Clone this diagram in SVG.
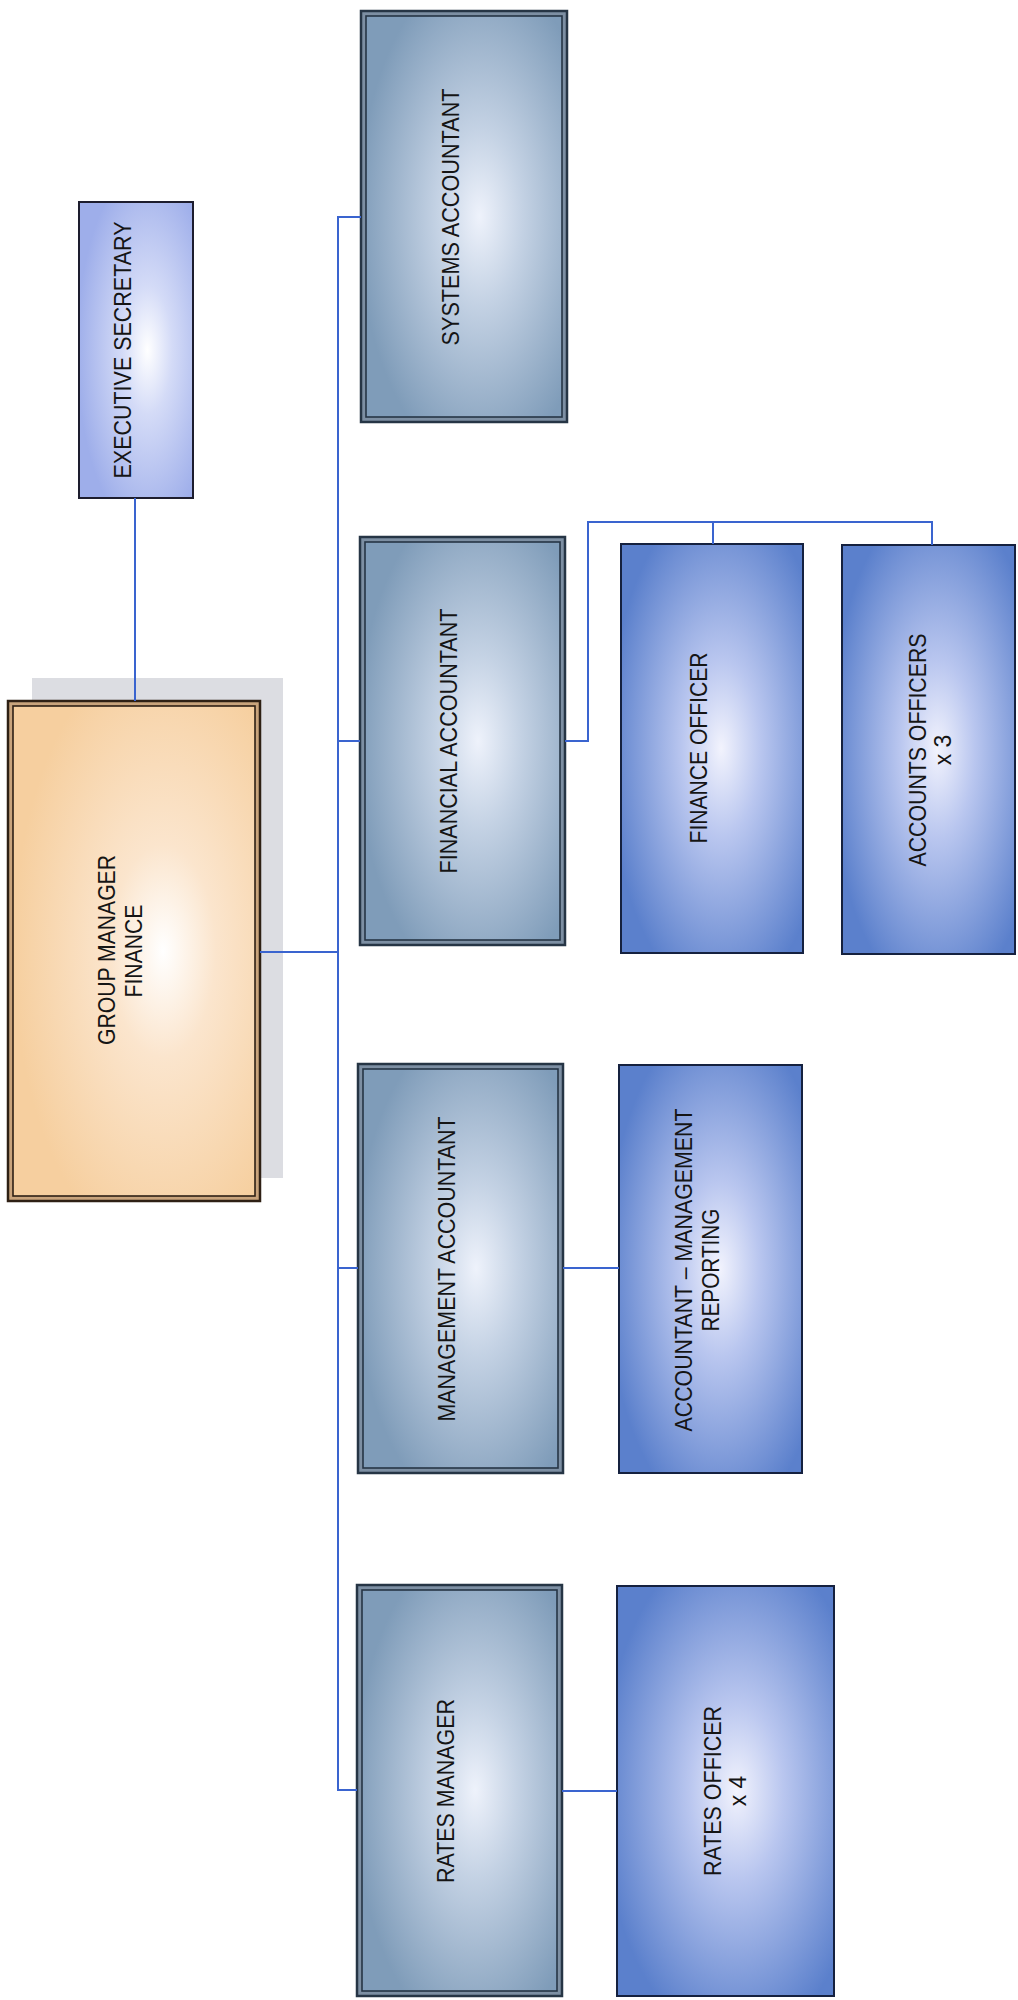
<svg xmlns="http://www.w3.org/2000/svg" width="1018" height="2000" viewBox="0 0 1018 2000">
<style>
text{font-family:"Liberation Sans",Arial,sans-serif;font-size:23px;fill:#151515;text-anchor:middle}
.conn{fill:none;stroke:#3a64cf;stroke-width:2}
.mgrOuter{fill:#7d8fa3;stroke:#263545;stroke-width:2.5}
.mgrInner{fill:url(#gMgr);stroke:#263545;stroke-width:1.6}
.off{fill:url(#gOff);stroke:#15213f;stroke-width:2}
</style>
<defs>
<radialGradient id="gMgr" cx="0.58" cy="0.5" r="0.62">
<stop offset="0" stop-color="#eef2fb"/>
<stop offset="0.35" stop-color="#c4d2e4"/>
<stop offset="1" stop-color="#7f9cb9"/>
</radialGradient>
<radialGradient id="gOff" cx="0.55" cy="0.5" r="0.62">
<stop offset="0" stop-color="#f2f3fd"/>
<stop offset="0.35" stop-color="#b9c6ef"/>
<stop offset="1" stop-color="#5b80cc"/>
</radialGradient>
<radialGradient id="gExec" cx="0.6" cy="0.5" r="0.62">
<stop offset="0" stop-color="#ffffff"/>
<stop offset="0.35" stop-color="#d4dbf7"/>
<stop offset="1" stop-color="#9eaeea"/>
</radialGradient>
<radialGradient id="gGM" cx="0.62" cy="0.5" r="0.62">
<stop offset="0" stop-color="#ffffff"/>
<stop offset="0.35" stop-color="#fbe5cd"/>
<stop offset="1" stop-color="#f6cf9f"/>
</radialGradient>
</defs>

<g id="executive-secretary">
<rect x="79" y="202" width="114" height="296" fill="url(#gExec)" stroke="#1d1d2e" stroke-width="2"/>
<text transform="translate(131,350) rotate(-90)" textLength="257" lengthAdjust="spacingAndGlyphs">EXECUTIVE SECRETARY</text>
</g>

<g id="group-manager-finance">
<rect x="32" y="678" width="251" height="500" fill="#dcdde2"/>
<rect x="8" y="701" width="252" height="500" fill="#c9a47c" stroke="#2e2014" stroke-width="2.5"/>
<rect x="13" y="706" width="242" height="490" fill="url(#gGM)" stroke="#2e2014" stroke-width="1.6"/>
<text transform="translate(115,950) rotate(-90)" textLength="190" lengthAdjust="spacingAndGlyphs">GROUP MANAGER</text>
<text transform="translate(142,951) rotate(-90)" textLength="93" lengthAdjust="spacingAndGlyphs">FINANCE</text>
</g>

<g id="systems-accountant">
<rect class="mgrOuter" x="361" y="11" width="206" height="411"/>
<rect class="mgrInner" x="366" y="16" width="196" height="401"/>
<text transform="translate(459,217) rotate(-90)" textLength="257" lengthAdjust="spacingAndGlyphs">SYSTEMS ACCOUNTANT</text>
</g>

<g id="financial-accountant">
<rect class="mgrOuter" x="360" y="537" width="205" height="408"/>
<rect class="mgrInner" x="365" y="542" width="195" height="398"/>
<text transform="translate(457,741) rotate(-90)" textLength="265" lengthAdjust="spacingAndGlyphs">FINANCIAL ACCOUNTANT</text>
</g>

<g id="management-accountant">
<rect class="mgrOuter" x="358" y="1064" width="205" height="409"/>
<rect class="mgrInner" x="363" y="1069" width="195" height="399"/>
<text transform="translate(455,1269) rotate(-90)" textLength="305" lengthAdjust="spacingAndGlyphs">MANAGEMENT ACCOUNTANT</text>
</g>

<g id="rates-manager">
<rect class="mgrOuter" x="357" y="1585" width="205" height="411"/>
<rect class="mgrInner" x="362" y="1590" width="195" height="401"/>
<text transform="translate(454,1791) rotate(-90)" textLength="184" lengthAdjust="spacingAndGlyphs">RATES MANAGER</text>
</g>

<g id="finance-officer">
<rect class="off" x="621" y="544" width="182" height="409"/>
<text transform="translate(707,748) rotate(-90)" textLength="191" lengthAdjust="spacingAndGlyphs">FINANCE OFFICER</text>
</g>

<g id="accounts-officers">
<rect class="off" x="842" y="545" width="173" height="409"/>
<text transform="translate(926,750) rotate(-90)" textLength="233" lengthAdjust="spacingAndGlyphs">ACCOUNTS OFFICERS</text>
<text transform="translate(951,750) rotate(-90)">x 3</text>
</g>

<g id="accountant-management-reporting">
<rect class="off" x="619" y="1065" width="183" height="408"/>
<text transform="translate(692,1270) rotate(-90)" textLength="323" lengthAdjust="spacingAndGlyphs">ACCOUNTANT – MANAGEMENT</text>
<text transform="translate(719,1270) rotate(-90)" textLength="123" lengthAdjust="spacingAndGlyphs">REPORTING</text>
</g>

<g id="rates-officer">
<rect class="off" x="617" y="1586" width="217" height="410"/>
<text transform="translate(721,1791) rotate(-90)" textLength="170" lengthAdjust="spacingAndGlyphs">RATES OFFICER</text>
<text transform="translate(746,1791) rotate(-90)">x 4</text>
</g>

<g id="connectors">
<path class="conn" d="M135 498 V701"/>
<path class="conn" d="M361 217 H338 V1790 H357"/>
<path class="conn" d="M260 952 H338"/>
<path class="conn" d="M338 741 H360"/>
<path class="conn" d="M338 1268 H358"/>
<path class="conn" d="M565 741 H588 V522 H932 V545"/>
<path class="conn" d="M713 522 V544"/>
<path class="conn" d="M563 1268 H619"/>
<path class="conn" d="M562 1791 H617"/>
</g>
</svg>
